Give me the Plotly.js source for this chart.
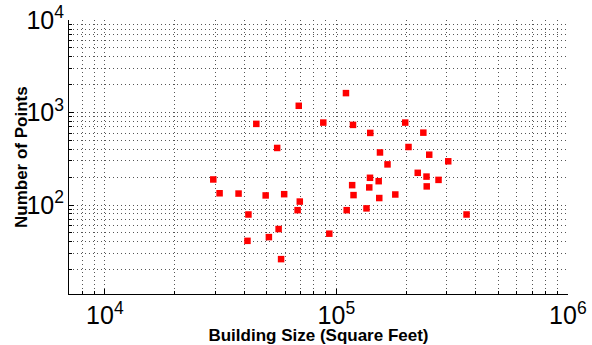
<!DOCTYPE html>
<html>
<head>
<meta charset="utf-8">
<script src="https://cdn.plot.ly/plotly-3.0.1.min.js"></script>
<style>
  html, body { margin: 0; padding: 0; background: #ffffff; }
  #chart { width: 592px; height: 345px; }
</style>
</head>
<body>
<div id="chart"></div>
<script>
// Building floor area (square feet) for each surveyed building
var buildingSize = [
  29400, 31300, 37800, 49500, 59500, 41700, 41300, 51100, 56300, 57700,
  68000, 69500, 45100, 55500, 68800, 87800, 93200, 110000, 118000, 140100,
  154300, 166300, 198300, 204900, 237500, 251800, 304200, 224600, 245100, 276200,
  139700, 152300, 117000, 138700, 245600, 118600, 179700, 153200, 110800, 134900,
  365000
];

// Number of points recorded in each building
var numPoints = [
  189, 134, 133, 127, 131, 79, 41, 45, 55, 26,
  88, 109, 754, 414, 1183, 779, 49, 1622, 735, 602,
  370, 275, 779, 424, 606, 350, 297, 223, 203, 187,
  197, 181, 164, 155, 159, 128, 130, 119, 88, 92,
  79
];

var xTitle = 'Building Size (Square Feet)';
var yTitle = 'Number of Points';

var fontFamily = 'Liberation Sans, Arial, Helvetica, sans-serif';
var titleFont = { family: fontFamily, size: 17, color: '#000000', weight: 'bold' };
var gridDash = '1px,3px';
var gridColor = '#555555';

var trace = {
  type: 'scatter',
  mode: 'markers',
  x: buildingSize,
  y: numPoints,
  marker: { symbol: 'square', size: 6.5, color: '#ff0000', line: { width: 0 } },
  hoverinfo: 'x+y'
};

function logAxis(range) {
  return {
    type: 'log',
    range: range,
    dtick: 1,
    exponentformat: 'power',
    showgrid: true,
    gridcolor: gridColor,
    griddash: gridDash,
    gridwidth: 1,
    showline: true,
    linecolor: '#000000',
    linewidth: 1,
    mirror: false,
    ticks: 'inside',
    ticklen: 5,
    tickcolor: '#000000',
    tickfont: { family: fontFamily, size: 20, color: '#000000' },
    zeroline: false,
    minor: {
      dtick: 'D1',
      showgrid: true,
      gridcolor: gridColor,
      griddash: gridDash,
      gridwidth: 1,
      ticks: 'inside',
      ticklen: 3,
      tickcolor: '#000000'
    }
  };
}

var xaxis = logAxis([Math.log10(7000), 6.0005]);
xaxis.title = { text: xTitle, font: titleFont, standoff: 7 };

var yaxis = logAxis([1.038, 4.0005]);

var layout = {
  width: 592,
  height: 345,
  margin: { l: 69, r: 24, t: 20, b: 51 },
  paper_bgcolor: '#ffffff',
  plot_bgcolor: '#ffffff',
  showlegend: false,
  xaxis: xaxis,
  yaxis: yaxis,
  // vertical y-axis title, set just left of the tick labels
  annotations: [{
    text: yTitle,
    font: titleFont,
    textangle: -90,
    xref: 'paper', yref: 'paper',
    x: 0, y: 0.5,
    xanchor: 'center', yanchor: 'middle',
    xshift: -48,
    showarrow: false
  }]
};

Plotly.newPlot('chart', [trace], layout, { displayModeBar: false, staticPlot: true });
</script>
</body>
</html>
